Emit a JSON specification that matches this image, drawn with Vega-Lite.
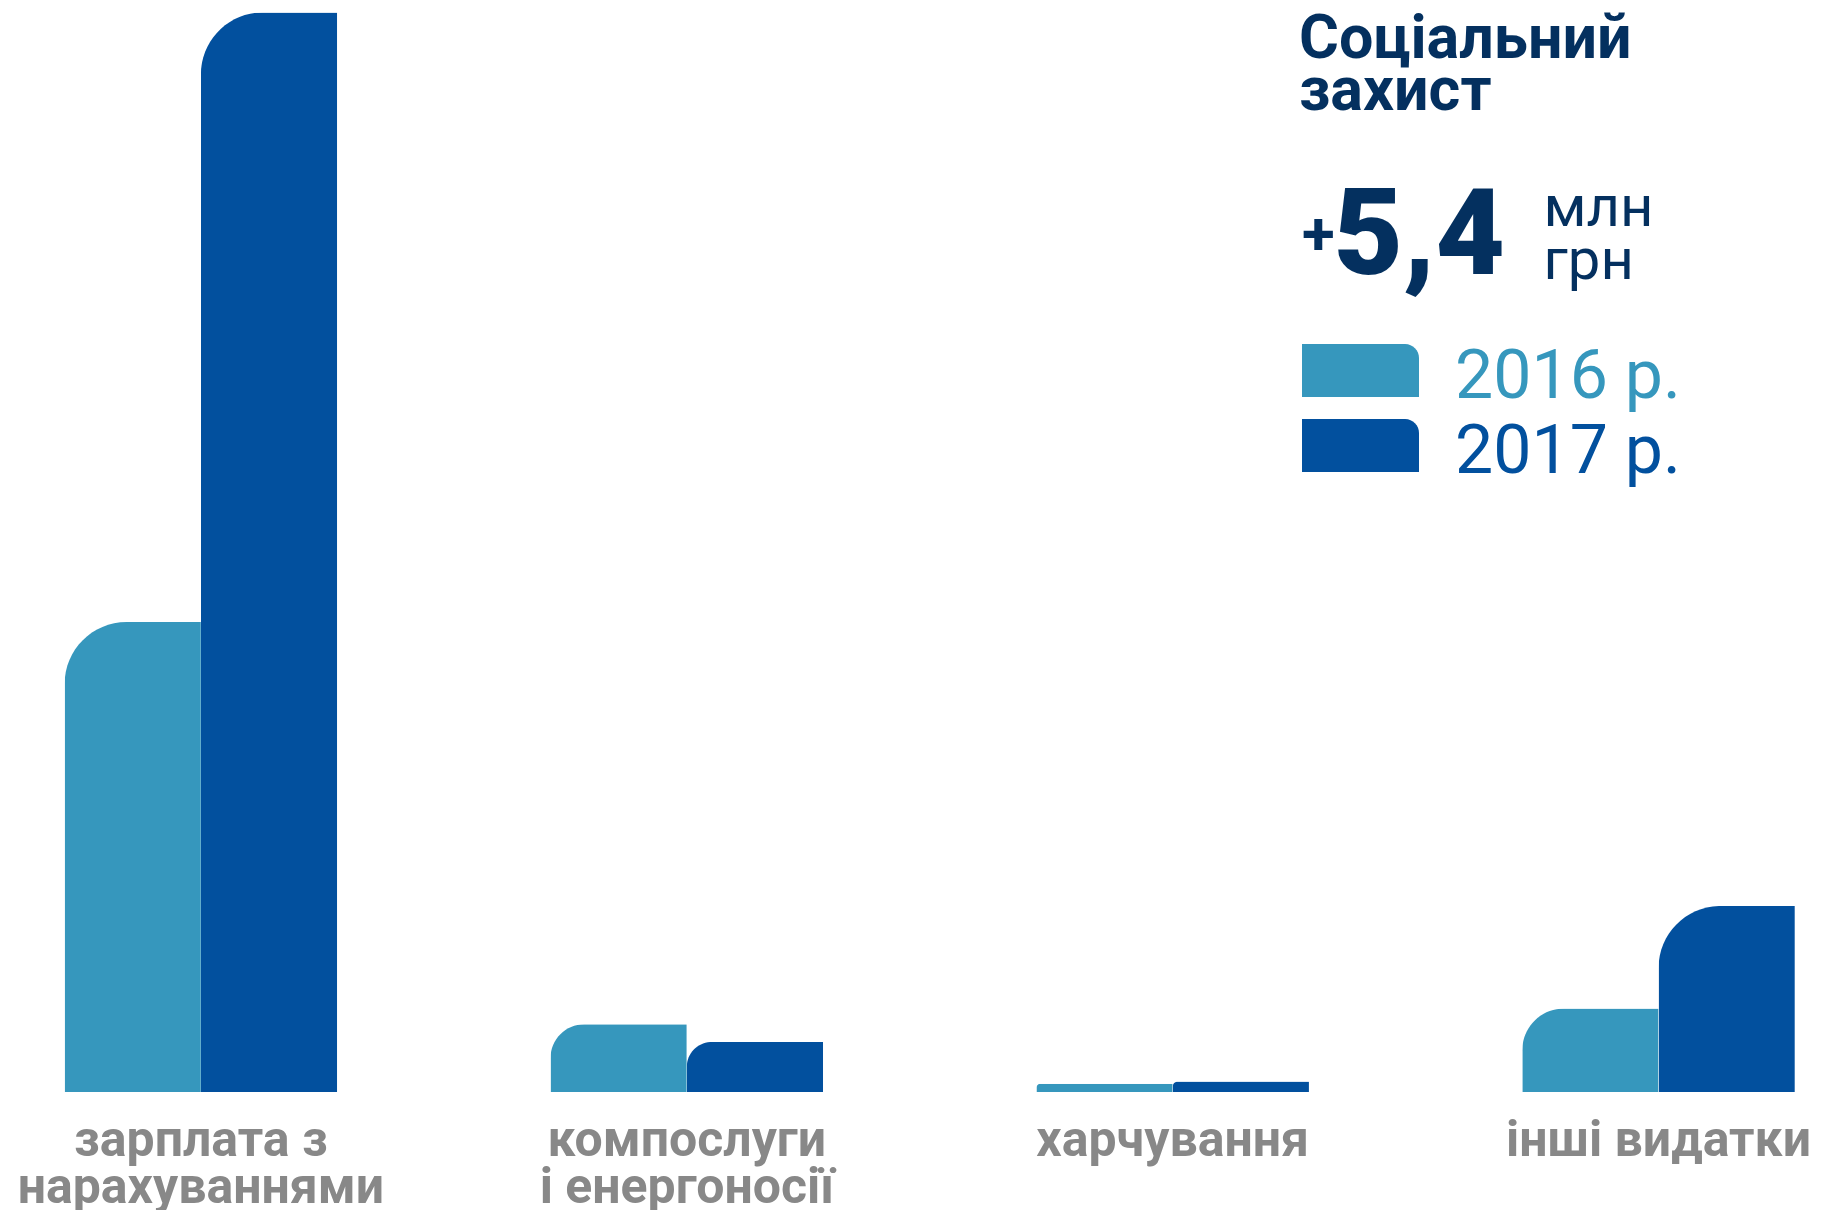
{
  "$schema": "https://vega.github.io/schema/vega-lite/v6.json",
  "width": 1842,
  "height": 1092,
  "autosize": {"type": "none"},
  "padding": {"left": 0, "top": 0, "right": 0, "bottom": 118},
  "background": "white",
  "config": {"view": {"stroke": null}, "font": "Roboto"},
  "title": {
    "text": ["Соціальний", "захист"],
    "frame": "group",
    "anchor": "start",
    "orient": "top",
    "offset": -113,
    "dx": 1299,
    "dy": 10,
    "font": "Roboto",
    "fontSize": 61,
    "fontWeight": "bold",
    "lineHeight": 52,
    "color": "#04305f"
  },
  "data": {
    "values": [
      {"category": "зарплата з нарахуваннями", "year": "2016 р.", "value": 3.643},
      {"category": "зарплата з нарахуваннями", "year": "2017 р.", "value": 8.369},
      {"category": "компослуги і енергоносії", "year": "2016 р.", "value": 0.525},
      {"category": "компослуги і енергоносії", "year": "2017 р.", "value": 0.388},
      {"category": "харчування", "year": "2016 р.", "value": 0.064},
      {"category": "харчування", "year": "2017 р.", "value": 0.082},
      {"category": "інші видатки", "year": "2016 р.", "value": 0.647},
      {"category": "інші видатки", "year": "2017 р.", "value": 1.442}
    ]
  },
  "mark": {"type": "bar", "cornerRadiusTopLeft": 62},
  "encoding": {
    "x": {
      "field": "category",
      "type": "nominal",
      "sort": null,
      "scale": {"paddingInner": 0.439, "paddingOuter": 0.115, "align": 0.578},
      "axis": {
        "orient": "bottom",
        "domain": false,
        "ticks": false,
        "tickSize": 0,
        "grid": false,
        "labelAngle": 0,
        "labelFont": "Roboto",
        "labelFontWeight": "bold",
        "labelFontSize": 50,
        "labelColor": "#888888",
        "labelPadding": 63,
        "labelBaseline": "alphabetic",
        "labelLineHeight": 47,
        "labelLimit": 0,
        "labelOverlap": false,
        "labelExpr": "datum.value == 'зарплата з нарахуваннями' ? ['зарплата з', 'нарахуваннями'] : datum.value == 'компослуги і енергоносії' ? ['компослуги', 'і енергоносії'] : datum.value",
        "title": ["млн", "грн"],
        "titleX": 1543,
        "titleY": -867,
        "titleAlign": "left",
        "titleAngle": 0,
        "titleBaseline": "alphabetic",
        "titleFont": "Roboto",
        "titleFontWeight": "normal",
        "titleFontSize": 58,
        "titleLineHeight": 53,
        "titleColor": "#04305f"
      }
    },
    "xOffset": {
      "field": "year",
      "type": "nominal",
      "scale": {"paddingInner": 0, "paddingOuter": 0}
    },
    "y": {
      "field": "value",
      "type": "quantitative",
      "scale": {"domain": [0, 8.465], "nice": false, "zero": true},
      "axis": {
        "orient": "left",
        "domain": false,
        "ticks": false,
        "labels": false,
        "grid": false,
        "title": "5,4",
        "titleX": 1333,
        "titleY": 273,
        "titleAngle": 0,
        "titleAlign": "left",
        "titleBaseline": "alphabetic",
        "titleFont": "Roboto",
        "titleFontWeight": 900,
        "titleFontSize": 120,
        "titleColor": "#04305f"
      }
    },
    "color": {
      "field": "year",
      "type": "nominal",
      "scale": {"domain": ["2016 р.", "2017 р."], "range": ["#3697bd", "#02509e"]},
      "legend": {
        "orient": "none",
        "legendX": 1302,
        "legendY": 207,
        "direction": "vertical",
        "title": "+",
        "titleFont": "Roboto",
        "titleFontWeight": "bold",
        "titleFontSize": 60,
        "titleColor": "#04305f",
        "titlePadding": 77,
        "padding": 0,
        "symbolType": "M-1,-0.453L0.76,-0.453A0.24,0.24,0,0,1,1,-0.213L1,0.453L-1,0.453Z",
        "symbolSize": 13689,
        "symbolStrokeWidth": 0,
        "symbolOpacity": 1,
        "clipHeight": 53,
        "rowPadding": 6,
        "labelFont": "Roboto",
        "labelFontSize": 68,
        "labelOffset": 36,
        "labelLimit": 0,
        "encode": {
          "labels": {
            "update": {
              "fill": {"signal": "datum.value === '2016 р.' ? '#3697bd' : '#02509e'"},
              "dy": {"value": 7}
            }
          }
        }
      }
    }
  }
}
